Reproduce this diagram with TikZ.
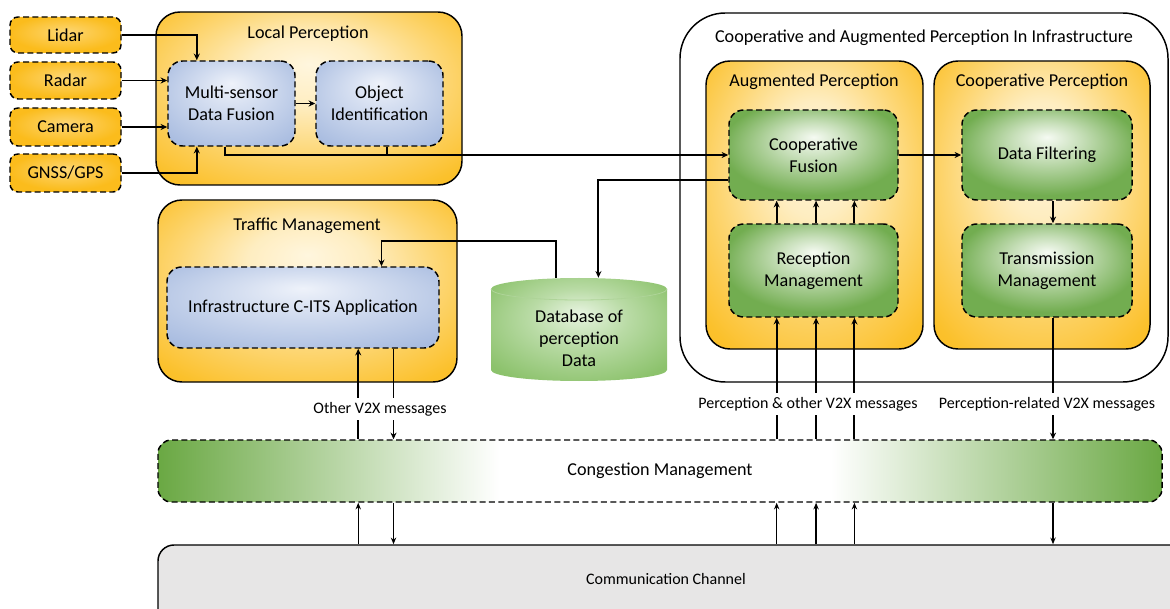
\documentclass[tikz,border=0pt]{standalone}
\usepackage{fontspec}
\setmainfont{Carlito}
\usetikzlibrary{arrows.meta,calc,fit}
\definecolor{orgE}{HTML}{FBBC1C}
\definecolor{orgC}{HTML}{FFF6DE}
\definecolor{bluT}{HTML}{EEF2FA}
\definecolor{bluB}{HTML}{A6BADF}
\definecolor{grnT}{HTML}{F5FAF2}
\definecolor{grnB}{HTML}{72AD50}
\definecolor{grnD}{HTML}{6AA843}
\definecolor{dbE}{HTML}{8CC26C}
\definecolor{dbC}{HTML}{DDEFD3}
\definecolor{chan}{HTML}{E7E6E6}
\pgfdeclarehorizontalshading{congshade}{100bp}{color(0bp)=(grnD); color(25bp)=(grnD); color(42bp)=(white); color(58.5bp)=(white); color(75bp)=(grnD); color(100bp)=(grnD)}
\pgfdeclareradialshading{orgrad}{\pgfpoint{0bp}{10bp}}{color(0bp)=(orgC); color(10bp)=(orgC!85!orgE); color(22bp)=(orgE!55!orgC); color(34bp)=(orgE!92!orgC); color(42bp)=(orgE); color(50bp)=(orgE)}
\pgfdeclareradialshading{sensrad}{\pgfpoint{0bp}{5bp}}{color(0bp)=(orgE!55!orgC); color(25bp)=(orgE); color(50bp)=(orgE)}
\pgfdeclareradialshading{grnrad}{\pgfpoint{0bp}{10bp}}{color(0bp)=(grnT); color(10bp)=(grnB!35!grnT); color(27bp)=(grnB); color(50bp)=(grnB)}
\pgfdeclareradialshading{dbrad}{\pgfpoint{0bp}{8bp}}{color(0bp)=(dbC!70!white); color(14bp)=(dbE!45!dbC); color(32bp)=(dbE); color(50bp)=(dbE)}
\pgfdeclareradialshading{blurad}{\pgfpoint{0bp}{12bp}}{color(0bp)=(bluT); color(12bp)=(bluB!35!bluT); color(36bp)=(bluB); color(50bp)=(bluB)}
\tikzset{
  box/.style={fit={#1}, inner sep=0pt},
  txt/.style={font=\fontsize{13.6}{16.5}\selectfont, align=center, inner sep=1pt},
  dsh/.style={draw, dashed, dash pattern=on 4.5pt off 2.5pt, line width=1.1pt},
  sensor/.style={dsh, rounded corners=6pt, shading=sensrad},
  orgbox/.style={draw, line width=1.1pt, rounded corners=18pt, shading=orgrad},
  bluebox/.style={dsh, rounded corners=11pt, shading=blurad},
  grnbox/.style={dsh, rounded corners=11pt, shading=grnrad},
  lbl/.style={font=\fontsize{12}{14}\selectfont, fill=white, inner sep=3pt},
  arr/.style={line width=1.4pt, -{Stealth[length=5pt,width=4.5pt]}},
  ln/.style={line width=1.4pt},
  arrs/.style={line width=1.1pt, -{Stealth[length=5pt,width=4pt]}},
}
\begin{document}
\begin{tikzpicture}[x=0.75pt,y=-0.75pt]
\path[use as bounding box, clip] (0,0) rectangle (1170,609);
\fill[white] (0,0) rectangle (1170,609);

% ---- containers
\node[box={(156,12)(462,185)}, orgbox] (lp) {};
\node[txt] (lpt) at (308,34) {Local Perception};
\node[box={(158,200)(457,382)}, orgbox] (tm) {};
\node[txt] (tmt) at (307,226) {Traffic Management};
\node[box={(680,13)(1168,382)}, draw, fill=white, line width=1.1pt, rounded corners=34pt] (cap) {};
\node[txt] (capt) at (924,38) {Cooperative and Augmented Perception In Infrastructure};
\node[box={(706,61)(923,349)}, orgbox] (ap) {};
\node[txt] (apt) at (814,82) {Augmented Perception};
\node[box={(934,61)(1150,349)}, orgbox] (cp) {};
\node[txt] (cpt) at (1042,82) {Cooperative Perception};

% ---- sensors
\node[box={(10,17)(121,53)}, sensor] (lidar) {};
\node[txt] (lidart) at (lidar.center) {Lidar};
\node[box={(10,62)(121,99)}, sensor] (radar) {};
\node[txt] (radart) at (radar.center) {Radar};
\node[box={(10,108)(121,146)}, sensor] (camera) {};
\node[txt] (camerat) at (camera.center) {Camera};
\node[box={(10,154)(121,192)}, sensor] (gnss) {};
\node[txt] (gnsst) at (gnss.center) {GNSS/GPS};

% ---- inner boxes
\node[box={(168,61)(295,146)}, bluebox] (msdf) {};
\node[txt] (msdft) at (msdf.center) {Multi-sensor\\Data Fusion};
\node[box={(316,61)(443,146)}, bluebox] (oi) {};
\node[txt] (oit) at (oi.center) {Object\\Identification};
\node[box={(167,267)(439,348)}, bluebox] (ica) {};
\node[txt] (icat) at (ica.center) {Infrastructure C-ITS Application};
\node[box={(729,110)(898,200)}, grnbox] (cf) {};
\node[txt] (cft) at (cf.center) {Cooperative\\Fusion};
\node[box={(729,224)(898,317)}, grnbox] (rm) {};
\node[txt] (rmt) at (rm.center) {Reception\\Management};
\node[box={(962,110)(1132,200)}, grnbox] (df) {};
\node[txt] (dft) at (df.center) {Data Filtering};
\node[box={(962,224)(1132,317)}, grnbox] (trm) {};
\node[txt] (trmt) at (trm.center) {Transmission\\Management};

% ---- database cylinder
\node[box={(491,278)(667,381)}] (db) {};
\shade[shading=dbrad] (491,289) -- (491,370) arc[start angle=180, end angle=0, x radius=88, y radius=11] -- (667,289) arc[start angle=0, end angle=-180, x radius=88, y radius=11];
\draw[dbE!70!white, line width=0.6pt] (491,289) arc[start angle=180, end angle=0, x radius=88, y radius=11];
\node[txt] (dbt) at (579,338) {Database of\\perception\\Data};

% ---- bottom bars
\node[box={(158,440)(1162,502)}, dsh, rounded corners=10pt, shading=congshade] (cong) {};
\node[txt] (congt) at (cong.center) {Congestion Management};
\node[box={(158,545)(1190,640)}, draw, fill=chan, line width=1.1pt, rounded corners=12pt] (comm) {};
\node[font=\fontsize{12}{14}\selectfont] (commt) at (666,579) {Communication Channel};

% ---- local perception connectors
\coordinate (msdfT) at ($(msdf.north west)!0.23!(msdf.north east)$);
\coordinate (msdfB) at ($(msdf.south west)!0.23!(msdf.south east)$);
\draw[arr] (lidar.east) -| (msdfT);
\draw[arr] (radar.east) -- (radar.east -| msdf.west);
\draw[arr] (camera.east) -- (camera.east -| msdf.west);
\draw[arr] (gnss.east) -| (msdfB);
\draw[arr] (msdf.east) -- (oi.west);
\coordinate (msdfO) at ($(msdf.south west)!0.45!(msdf.south east)$);
\coordinate (oiO) at ($(oi.south west)!0.56!(oi.south east)$);
\draw[arr] (msdfO) |- (cf.west);
\draw[ln] (oiO) -- (oiO |- cf.west);

% ---- database connectors
\coordinate (cfL) at ($(cf.north west)!0.77!(cf.south west)$);
\coordinate (dbIn) at ($(db.north west)!0.61!(db.north east)$);
\draw[arr] (cfL) -| (dbIn);
\coordinate (dbOut) at ($(db.north west)!0.37!(db.north east)$);
\coordinate (icaIn) at ($(ica.north west)!0.787!(ica.north east)$);
\draw[ln, -{Stealth[length=5pt,width=4.5pt]}] (dbOut) -- ++(0,-37) -| (icaIn);

% ---- augmented / cooperative connectors
\draw[arr] (cf.east) -- (df.west);
\coordinate (dfB) at ($(df.south west)!0.535!(df.south east)$);
\draw[arr] (dfB) -- (dfB |- trm.north);
\foreach \f/\n in {0.284/a,0.515/b,0.74/c}{
  \coordinate (rmT\n) at ($(rm.north west)!\f!(rm.north east)$);
  \coordinate (rmB\n) at ($(rm.south west)!\f!(rm.south east)$);
  \draw[arr] (rmT\n) -- (rmT\n |- cf.south);
  \draw[arr] (rmB\n |- cong.north) -- (rmB\n);
  \draw[arrs] (rmB\n |- comm.north) -- (rmB\n |- cong.south);
}
\draw[arr] (dfB |- trm.south) -- (dfB |- cong.north);
\draw[arrs] (dfB |- cong.south) -- (dfB |- comm.north);

% ---- traffic management connectors
\coordinate (icaU) at ($(ica.south west)!0.702!(ica.south east)$);
\coordinate (icaD) at ($(ica.south west)!0.831!(ica.south east)$);
\draw[arr] (icaU |- cong.north) -- (icaU);
\draw[arr] (icaD) -- (icaD |- cong.north);
\draw[arrs] (icaU |- comm.north) -- (icaU |- cong.south);
\draw[arrs] (icaD |- cong.south) -- (icaD |- comm.north);

% ---- labels
\node[lbl] (l1) at (380,409) {Other V2X messages};
\node[lbl] (l2) at (808,404) {Perception \& other V2X messages};
\node[lbl] (l3) at (1047,404) {Perception-related V2X messages};
\end{tikzpicture}
\end{document}
